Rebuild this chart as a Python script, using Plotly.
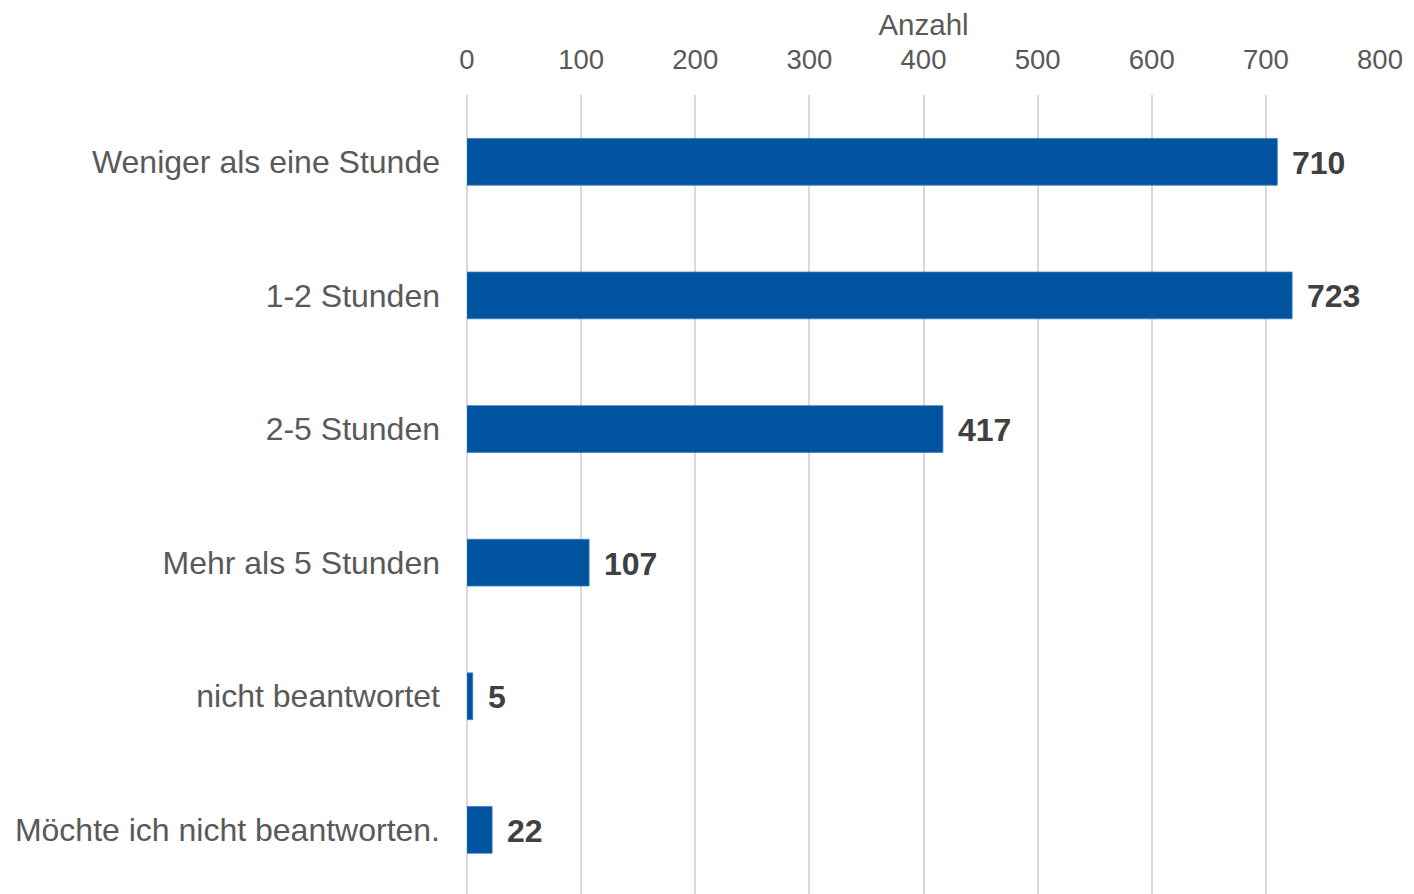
import plotly.graph_objects as go

categories = [
    "Weniger als eine Stunde",
    "1-2 Stunden",
    "2-5 Stunden",
    "Mehr als 5 Stunden",
    "nicht beantwortet",
    "Möchte ich nicht beantworten.",
]
values = [710, 723, 417, 107, 5, 22]
x_ticks = [0, 100, 200, 300, 400, 500, 600, 700, 800]
x_title = "Anzahl"

BAR = "#00539F"
FONT = "Liberation Sans, Arial, sans-serif"

fig = go.Figure()
fig.add_trace(go.Bar(
    y=categories,
    x=values,
    orientation="h",
    width=0.35,
    marker=dict(color=BAR, line=dict(color="#3B7DC4", width=0.8)),
    hoverinfo="skip",
))

for c, v in zip(categories, values):
    fig.add_annotation(
        x=v, y=c, xref="x", yref="y",
        text=f"<b>{v}</b>",
        showarrow=False,
        xanchor="left", yanchor="middle",
        xshift=13, yshift=-1,
        font=dict(family=FONT, size=32, color="#404040"),
    )

fig.update_layout(
    width=1406, height=886,
    margin=dict(l=459, r=34, t=87, b=0),
    paper_bgcolor="white",
    plot_bgcolor="white",
    showlegend=False,
    font=dict(family=FONT, color="#595959"),
)
fig.update_xaxes(
    side="top",
    range=[0, 800],
    tickvals=x_ticks,
    ticktext=[str(t) for t in x_ticks],
    tickfont=dict(family=FONT, size=27.5, color="#595959"),
    showgrid=True,
    gridcolor="#D9D9D9",
    gridwidth=1.5,
    zeroline=True,
    zerolinecolor="#D9D9D9",
    zerolinewidth=1.5,
    showline=False,
    ticks="",
    ticklabelstandoff=20,
    title=dict(text=x_title, font=dict(family=FONT, size=29.5, color="#595959"), standoff=0),
)
fig.update_yaxes(
    type="category",
    categoryorder="array",
    categoryarray=categories,
    range=[5.48, -0.5],
    tickfont=dict(family=FONT, size=32, color="#595959"),
    showgrid=False,
    zeroline=False,
    showline=False,
    ticks="",
    ticklabelstandoff=26,
)

fig.write_html("out.html")
